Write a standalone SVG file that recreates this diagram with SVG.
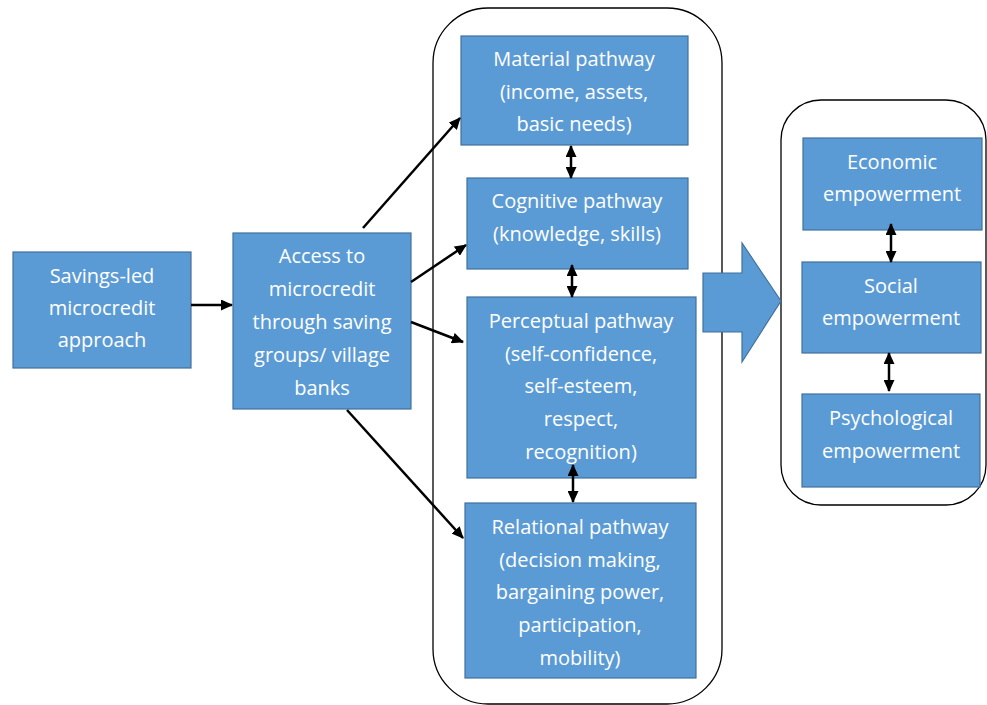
<svg xmlns="http://www.w3.org/2000/svg" width="987" height="705" viewBox="0 0 987 705">
<style>
.box{fill:#5B9BD5;stroke:#41719C;stroke-width:1.2}
.frame{fill:none;stroke:#000;stroke-width:1.3}
.t{font-family:"Open Sans","Liberation Sans",sans-serif;font-size:20px;fill:#fff;text-anchor:middle}
.c{stroke:#000;stroke-width:2.5;fill:none}
</style>
<defs>
<marker id="ah" markerWidth="12" markerHeight="11" refX="11" refY="5.5" orient="auto-start-reverse" markerUnits="userSpaceOnUse" viewBox="0 0 12 11">
<path d="M0,0 L12,5.5 L0,11 z" fill="#000"/>
</marker>
</defs>
<rect class="frame" x="433" y="8" width="289" height="696" rx="55"/>
<rect class="frame" x="781" y="100" width="205" height="405" rx="40"/>
<g id="n-savings">
<rect class="box" x="13" y="252" width="178" height="116"/>
<text class="t" x="102" y="283">Savings-led</text>
<text class="t" x="102" y="315">microcredit</text>
<text class="t" x="102" y="347">approach</text>
</g>
<g id="n-access">
<rect class="box" x="233" y="233" width="178" height="176"/>
<text class="t" x="322" y="263">Access to</text>
<text class="t" x="322" y="296">microcredit</text>
<text class="t" x="322" y="329">through saving</text>
<text class="t" x="322" y="362">groups/ village</text>
<text class="t" x="322" y="395">banks</text>
</g>
<g id="n-material">
<rect class="box" x="461" y="36" width="227" height="109"/>
<text class="t" x="574" y="66">Material pathway</text>
<text class="t" x="574" y="99">(income, assets,</text>
<text class="t" x="574" y="131">basic needs)</text>
</g>
<g id="n-cognitive">
<rect class="box" x="467" y="178" width="221" height="91"/>
<text class="t" x="577" y="208">Cognitive pathway</text>
<text class="t" x="577" y="241">(knowledge, skills)</text>
</g>
<g id="n-perceptual">
<rect class="box" x="467" y="297" width="229" height="181"/>
<text class="t" x="581" y="328">Perceptual pathway</text>
<text class="t" x="581" y="361">(self-confidence,</text>
<text class="t" x="581" y="393">self-esteem,</text>
<text class="t" x="581" y="426">respect,</text>
<text class="t" x="581" y="459">recognition)</text>
</g>
<g id="n-relational">
<rect class="box" x="465" y="503" width="231" height="175"/>
<text class="t" x="580" y="534">Relational pathway</text>
<text class="t" x="580" y="567">(decision making,</text>
<text class="t" x="580" y="599">bargaining power,</text>
<text class="t" x="580" y="632">participation,</text>
<text class="t" x="580" y="665">mobility)</text>
</g>
<g id="n-bigarrow">
<path class="box" d="M703,273 L742,273 L742,243 L781,301 L742,362 L742,332 L703,332 z"/>
</g>
<g id="n-economic">
<rect class="box" x="803" y="138" width="179" height="92"/>
<text class="t" x="892" y="169">Economic</text>
<text class="t" x="892" y="201">empowerment</text>
</g>
<g id="n-social">
<rect class="box" x="802" y="262" width="179" height="91"/>
<text class="t" x="891" y="293">Social</text>
<text class="t" x="891" y="325">empowerment</text>
</g>
<g id="n-psych">
<rect class="box" x="802" y="394" width="178" height="93"/>
<text class="t" x="891" y="425">Psychological</text>
<text class="t" x="891" y="458">empowerment</text>
</g>
<g id="connectors">
<line class="c" x1="191" y1="305" x2="232" y2="305" marker-end="url(#ah)"/>
<line class="c" x1="363" y1="228" x2="460" y2="118" marker-end="url(#ah)"/>
<line class="c" x1="411" y1="282" x2="466" y2="245" marker-end="url(#ah)"/>
<line class="c" x1="411" y1="322" x2="463" y2="342" marker-end="url(#ah)"/>
<line class="c" x1="347" y1="410" x2="463" y2="538" marker-end="url(#ah)"/>
<line class="c" x1="571" y1="146" x2="571" y2="178" marker-start="url(#ah)" marker-end="url(#ah)"/>
<line class="c" x1="572" y1="265" x2="572" y2="297" marker-start="url(#ah)" marker-end="url(#ah)"/>
<line class="c" x1="573" y1="465" x2="573" y2="502" marker-start="url(#ah)" marker-end="url(#ah)"/>
<line class="c" x1="891" y1="224" x2="891" y2="262" marker-start="url(#ah)" marker-end="url(#ah)"/>
<line class="c" x1="889" y1="353" x2="889" y2="391" marker-start="url(#ah)" marker-end="url(#ah)"/>
</g>
</svg>
